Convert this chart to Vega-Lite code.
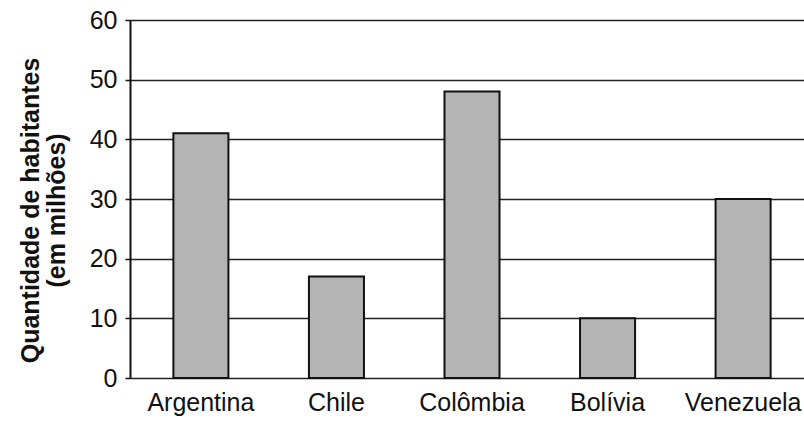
{
  "$schema": "https://vega.github.io/schema/vega-lite/v6.json",
  "width": 675,
  "height": 358,
  "autosize": "none",
  "padding": {"left": 130, "top": 20, "right": 0, "bottom": 47},
  "background": "white",
  "config": {
    "view": {"stroke": null},
    "font": "Liberation Sans"
  },
  "data": {
    "values": [
      {"pais": "Argentina", "habitantes": 41},
      {"pais": "Chile", "habitantes": 17},
      {"pais": "Colômbia", "habitantes": 48},
      {"pais": "Bolívia", "habitantes": 10},
      {"pais": "Venezuela", "habitantes": 30}
    ]
  },
  "mark": {"type": "bar", "fill": "#b4b4b4", "stroke": "#111111", "strokeWidth": 2},
  "encoding": {
    "x": {
      "field": "pais",
      "type": "nominal",
      "sort": null,
      "scale": {"paddingInner": 0.594, "paddingOuter": 0.32, "range": [0, 684]},
      "axis": {
        "title": null,
        "labelAngle": 0,
        "labelFontSize": 25,
        "labelColor": "#111111",
        "labelPadding": 12,
        "ticks": false,
        "domain": false
      }
    },
    "y": {
      "field": "habitantes",
      "type": "quantitative",
      "scale": {"domain": [0, 60], "nice": false},
      "axis": {
        "values": [0, 10, 20, 30, 40, 50, 60],
        "title": ["Quantidade de habitantes", "(em milhões)"],
        "titleFontSize": 25,
        "titleFontWeight": "bold",
        "titleColor": "#111111",
        "titlePadding": 20,
        "titleLineHeight": 26,
        "titleY": 190,
        "labelFontSize": 25,
        "labelColor": "#111111",
        "labelPadding": 8,
        "tickSize": 5,
        "tickColor": "#111111",
        "tickWidth": 1.5,
        "domainColor": "#111111",
        "domainWidth": 2,
        "grid": true,
        "gridColor": "#222222",
        "gridWidth": 1.6
      }
    }
  }
}
